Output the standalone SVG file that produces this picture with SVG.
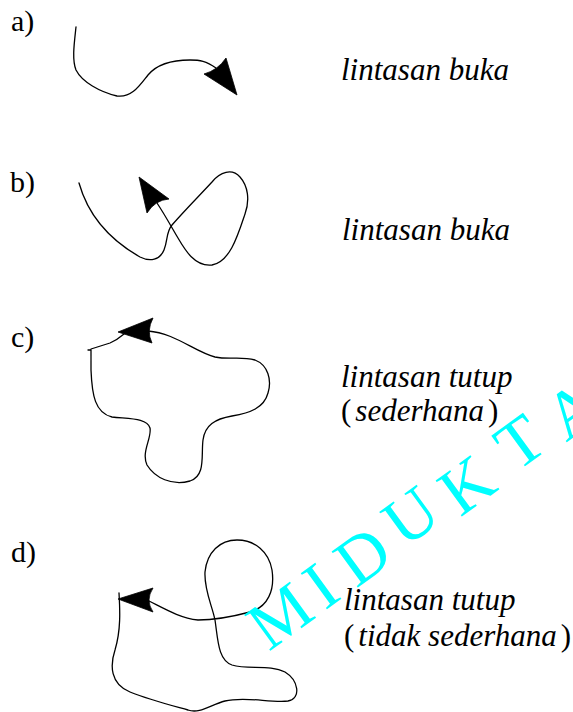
<svg xmlns="http://www.w3.org/2000/svg" width="573" height="712" viewBox="0 0 573 712">
  <style>
    .tag { font-family: "Liberation Serif", "Times New Roman", serif; font-size: 30px; fill: #000; }
    .cap { font-family: "Liberation Serif", "Times New Roman", serif; font-size: 31px; font-style: italic; fill: #000; }
    .up { font-style: normal; }
    .path { fill: none; stroke: #000; stroke-width: 1.3; stroke-linecap: round; stroke-linejoin: round; }
    .head { fill: #000; stroke: #000; stroke-width: 0.8; stroke-linejoin: round; }
    .wm { font-family: "Liberation Serif", "Times New Roman", serif; font-size: 68px; fill: #00FFFF; text-anchor: middle; }
  </style>
  <rect width="573" height="712" fill="#fff"/>

  <!-- a) open path -->
  <g id="panel-a">
    <text class="tag" x="11" y="31">a)</text>
    <path class="path" d="M76,27 C74,45 72,60 76,70 C82,82 100,92 117,96 C132,98 140,85 148,75 C158,63 175,60 190,60 C200,60 206,61 216,68"/>
    <path class="head" d="M237,95 L226,58 Q218,70 204,74 Z"/>
    <text class="cap" x="341" y="80">lintasan buka</text>
  </g>

  <!-- b) open path crossing itself -->
  <g id="panel-b">
    <text class="tag" x="10" y="192">b)</text>
    <path class="path" d="M79,183 C88,215 110,240 140,257 C150,262 160,260 164,250 C168,240 166,232 172,225 C185,210 200,195 212,182 C220,172 232,168 240,177 C248,186 250,200 245,214 C238,235 230,262 212,265 C195,267 185,250 178,238 C172,228 165,215 157,203"/>
    <path class="head" d="M139,177 L169,199 Q155,200 147,213 Z"/>
    <text class="cap" x="342" y="240">lintasan buka</text>
  </g>

  <!-- c) simple closed path -->
  <g id="panel-c">
    <text class="tag" x="11" y="347">c)</text>
    <path class="path" d="M148,331 C175,333 195,352 215,357 C230,360 240,356 255,360 C268,365 272,380 268,393 C264,408 250,413 232,416 C215,419 205,425 203,440 C201,455 206,476 190,481 C172,486 155,478 147,465 C141,452 152,438 150,428 C147,418 130,419 112,417 C95,413 92,395 91,370 L91,350 L88,350 M91,349 L110,343 Q117,340 124,334"/>
    <path class="head" d="M118,332 L153,318 Q146,331 152,343 Z"/>
    <text class="cap" x="341" y="387">lintasan tutup</text>
    <text class="cap" x="341" y="421"><tspan class="up">(</tspan><tspan dx="4">sederhana</tspan><tspan class="up" dx="4">)</tspan></text>
  </g>

  <!-- d) closed path with a loop -->
  <g id="panel-d">
    <text class="tag" x="11" y="562">d)</text>
    <path class="path" d="M149,601 C165,609 180,618 198,620 C215,620 235,616 250,612 C268,607 275,590 272,570 C269,552 255,540 237,540 C220,540 207,552 205,572 C204,590 212,605 215,620 C218,640 218,660 232,665 C248,670 270,664 285,672 C298,680 302,698 288,701 C270,703 245,696 225,701 C210,705 200,714 188,710 C170,705 150,700 130,692 C110,684 110,665 115,650 C121,630 120,610 119,593"/>
    <path class="head" d="M118,599 L153,588 Q145,600 153,612 Z"/>
    <text class="cap" x="344" y="610">lintasan tutup</text>
    <text class="cap" x="344" y="646"><tspan class="up">(</tspan><tspan dx="4">tidak sederhana</tspan><tspan class="up" dx="4">)</tspan></text>
  </g>

  <!-- watermark lettering, clipped by the right edge -->
  <g id="watermark">
    <text class="wm" transform="translate(280,616) rotate(-36)" dy="22.5">M</text>
    <text class="wm" transform="translate(321,586) rotate(-36)" dy="22.5">I</text>
    <text class="wm" transform="translate(363,556) rotate(-36)" dy="22.5">D</text>
    <text class="wm" transform="translate(411,516) rotate(-36)" dy="22.5">U</text>
    <text class="wm" transform="translate(467,485) rotate(-36)" dy="22.5">K</text>
    <text class="wm" transform="translate(520,442) rotate(-36)" dy="22.5">T</text>
    <text class="wm" transform="translate(573,410) rotate(-36)" dy="22.5">A</text>
  </g>
</svg>
